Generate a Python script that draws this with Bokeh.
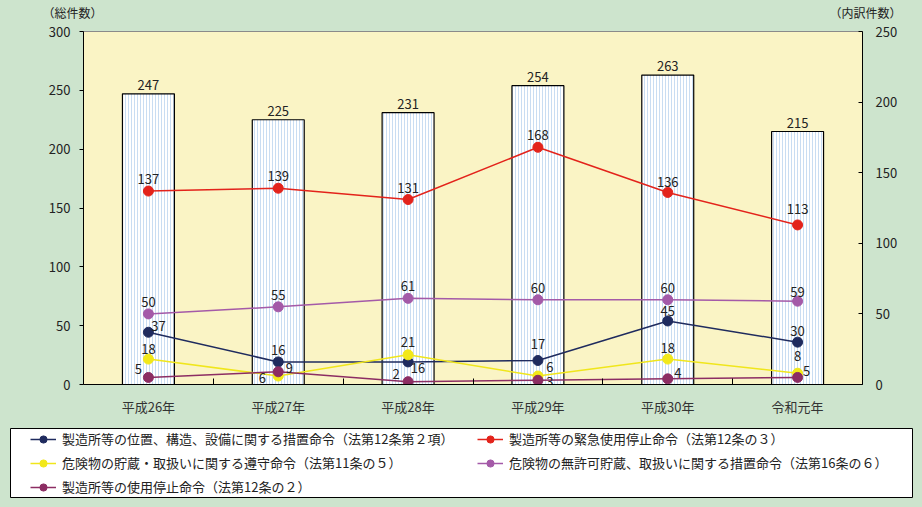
from bokeh.plotting import figure
from bokeh.layouts import column
from bokeh.models import (Range1d, LinearAxis, FixedTicker, Legend, LegendItem,
                          Label, ColumnDataSource)
from bokeh.core.properties import value
from bokeh.embed import file_html
from bokeh.resources import INLINE

FONT = "Noto Sans CJK JP"
FS = "13px"

categories = ["平成26年", "平成27年", "平成28年", "平成29年", "平成30年", "令和元年"]
total = [247, 225, 231, 254, 263, 215]

s_navy = [37, 16, 16, 17, 45, 30]
s_red = [137, 139, 131, 168, 136, 113]
s_yellow = [18, 6, 21, 6, 18, 8]
s_purple = [50, 55, 61, 60, 60, 59]
s_maroon = [5, 9, 2, 3, 4, 5]

names = [
    "製造所等の位置、構造、設備に関する措置命令（法第12条第２項）",
    "製造所等の緊急使用停止命令（法第12条の３）",
    "危険物の貯蔵・取扱いに関する遵守命令（法第11条の５）",
    "危険物の無許可貯蔵、取扱いに関する措置命令（法第16条の６）",
    "製造所等の使用停止命令（法第12条の２）",
]
left_title = "（総件数）"
right_title = "（内訳件数）"

# label offsets (screen px) – layout only
off_navy = [(10, -6), (0, -12), (10, 6), (0, -16), (0, -10), (0, -11)]
off_red = [(0, -12), (0, -12), (0, -12), (0, -12), (0, -10), (0, -16)]
off_yellow = [(0, -10), (-16, 2), (0, -13), (12, -9), (0, -11), (0, -17)]
off_purple = [(0, -12), (0, -12), (0, -12), (0, -12), (0, -12), (0, -9)]
off_maroon = [(-10, -8), (11, -4), (-12, -8), (12, 2), (10, -6), (9, -6)]

BG = "#cde4cd"
PLOT_BG = "#faf4c5"
TXT = "#222222"

xs = [i + 0.5 for i in range(len(categories))]

# ---------- header strip with the two axis titles ----------
W = 922
HEAD_H = 21
head = figure(width=W, height=HEAD_H, output_backend="svg", toolbar_location=None,
              x_range=Range1d(0, W), y_range=Range1d(0, HEAD_H),
              x_axis_type=None, y_axis_type=None, min_border=0)
head.frame_align = False
head.background_fill_color = BG
head.border_fill_color = BG
head.outline_line_color = None
head.grid.visible = False
head.add_layout(Label(x=72, y=9, text=left_title, text_align="center",
                      text_baseline="middle", text_font=FONT, text_font_size="12px",
                      text_color=TXT))
head.add_layout(Label(x=865, y=9, text=right_title, text_align="center",
                      text_baseline="middle", text_font=FONT, text_font_size="12px",
                      text_color=TXT))

# ---------- main chart ----------
p = figure(width=W, height=420 - HEAD_H, output_backend="svg", toolbar_location=None,
           x_range=Range1d(0, len(categories)), y_range=Range1d(0, 300),
           min_border_left=83, min_border_right=60, min_border_top=31 - HEAD_H,
           min_border_bottom=36)
p.frame_align = False
p.extra_y_ranges = {"right": Range1d(0, 250)}
p.background_fill_color = PLOT_BG
p.border_fill_color = BG
p.outline_line_color = "#8a8a8a"
p.outline_line_width = 1
p.grid.visible = False

bsrc = ColumnDataSource(dict(x=xs, top=total, lab=[str(v) for v in total]))
p.vbar(x="x", top="top", width=0.4, source=bsrc, fill_color="#ffffff",
       line_color="#000000", line_width=1.2, hatch_pattern="vertical_line",
       hatch_color="#c9ddf2", hatch_scale=3, hatch_weight=1)
p.text(x="x", y="top", text="lab", source=bsrc, text_align="center",
       text_baseline="bottom", y_offset=-4, text_font=value(FONT),
       text_font_size=FS, text_color=TXT)

series = [
    (s_navy, "#1f2b5e", "#1f2b5e", off_navy),
    (s_red, "#e3231b", "#e3231b", off_red),
    (s_yellow, "#f0e61c", "#f2e81a", off_yellow),
    (s_purple, "#a45aa8", "#a45aa8", off_purple),
    (s_maroon, "#8c2d63", "#8c2d63", off_maroon),
]

for (vals, lc, dc, offs) in series:
    src = ColumnDataSource(dict(x=xs, y=vals, lab=[str(v) for v in vals],
                                dx=[o[0] for o in offs], dy=[o[1] for o in offs]))
    p.line("x", "y", source=src, y_range_name="right", line_color=lc, line_width=1.5)
    p.scatter("x", "y", source=src, y_range_name="right", size=10,
              fill_color=dc, line_color=dc)
    p.text(x="x", y="y", text="lab", source=src, y_range_name="right",
           x_offset="dx", y_offset="dy", text_align="center", text_baseline="middle",
           text_font=value(FONT), text_font_size=FS, text_color=TXT)

xa = p.xaxis[0]
xa.ticker = FixedTicker(ticks=xs, minor_ticks=list(range(1, len(categories))))
xa.major_label_overrides = {x: c for x, c in zip(xs, categories)}
xa.major_tick_line_color = None
xa.minor_tick_in = 6
xa.minor_tick_out = 0
xa.minor_tick_line_color = "#000000"
xa.axis_line_color = "#000000"
xa.major_label_text_font = FONT
xa.major_label_text_font_size = FS
xa.major_label_text_color = "#333333"
xa.major_label_standoff = 6

ya = p.yaxis[0]
ya.ticker = FixedTicker(ticks=[0, 50, 100, 150, 200, 250, 300])
ya.minor_tick_line_color = None
ya.major_tick_in = 0
ya.major_tick_out = 4
ya.axis_line_color = "#000000"
ya.major_tick_line_color = "#000000"
ya.major_label_text_font = FONT
ya.major_label_text_font_size = FS
ya.major_label_text_color = TXT
ya.major_label_standoff = 9

ra = LinearAxis(y_range_name="right", ticker=FixedTicker(ticks=[0, 50, 100, 150, 200, 250]))
ra.minor_tick_line_color = None
ra.major_tick_in = 4
ra.major_tick_out = 0
ra.axis_line_color = "#000000"
ra.major_tick_line_color = "#000000"
ra.major_label_text_font = FONT
ra.major_label_text_font_size = FS
ra.major_label_text_color = TXT
ra.major_label_standoff = 13
p.add_layout(ra, "right")

# ---------- legend box ----------
lg = figure(width=W, height=87, output_backend="svg", toolbar_location=None,
            x_range=Range1d(0, 1), y_range=Range1d(0, 1),
            x_axis_type=None, y_axis_type=None,
            min_border_left=10, min_border_right=10, min_border_top=8,
            min_border_bottom=10)
lg.frame_align = False
lg.background_fill_color = "#ffffff"
lg.border_fill_color = BG
lg.outline_line_color = "#000000"
lg.outline_line_width = 1
lg.grid.visible = False

# legend proxies (kept outside the visible range of the legend box)
proxies = {}
for (vals, lc, dc, offs), name in zip(series, names):
    r1 = lg.line(x=[5, 6], y=[5, 6], line_color=lc, line_width=1.5)
    r2 = lg.scatter(x=[5], y=[5], size=10, fill_color=dc, line_color=dc)
    proxies[name] = LegendItem(label=name, renderers=[r1, r2])

# column-first order: left column navy, yellow, maroon; right column red, purple
legend_order = [names[0], names[2], names[4], names[1], names[3]]
legend = Legend(items=[proxies[n] for n in legend_order], ncols=2, location=(20, 1),
                padding=0, spacing=5, glyph_width=26, glyph_height=18,
                label_height=18, label_width=410, label_standoff=6,
                label_text_font=FONT, label_text_font_size=FS,
                label_text_color=TXT, border_line_color=None,
                background_fill_alpha=0, margin=0)
lg.add_layout(legend, "center")

layout = column(head, p, lg, spacing=0)

html = file_html(layout, INLINE)
html = html.replace("</head>", "<style>body{background:%s;}</style></head>" % BG, 1)
open("out.html", "w").write(html)
